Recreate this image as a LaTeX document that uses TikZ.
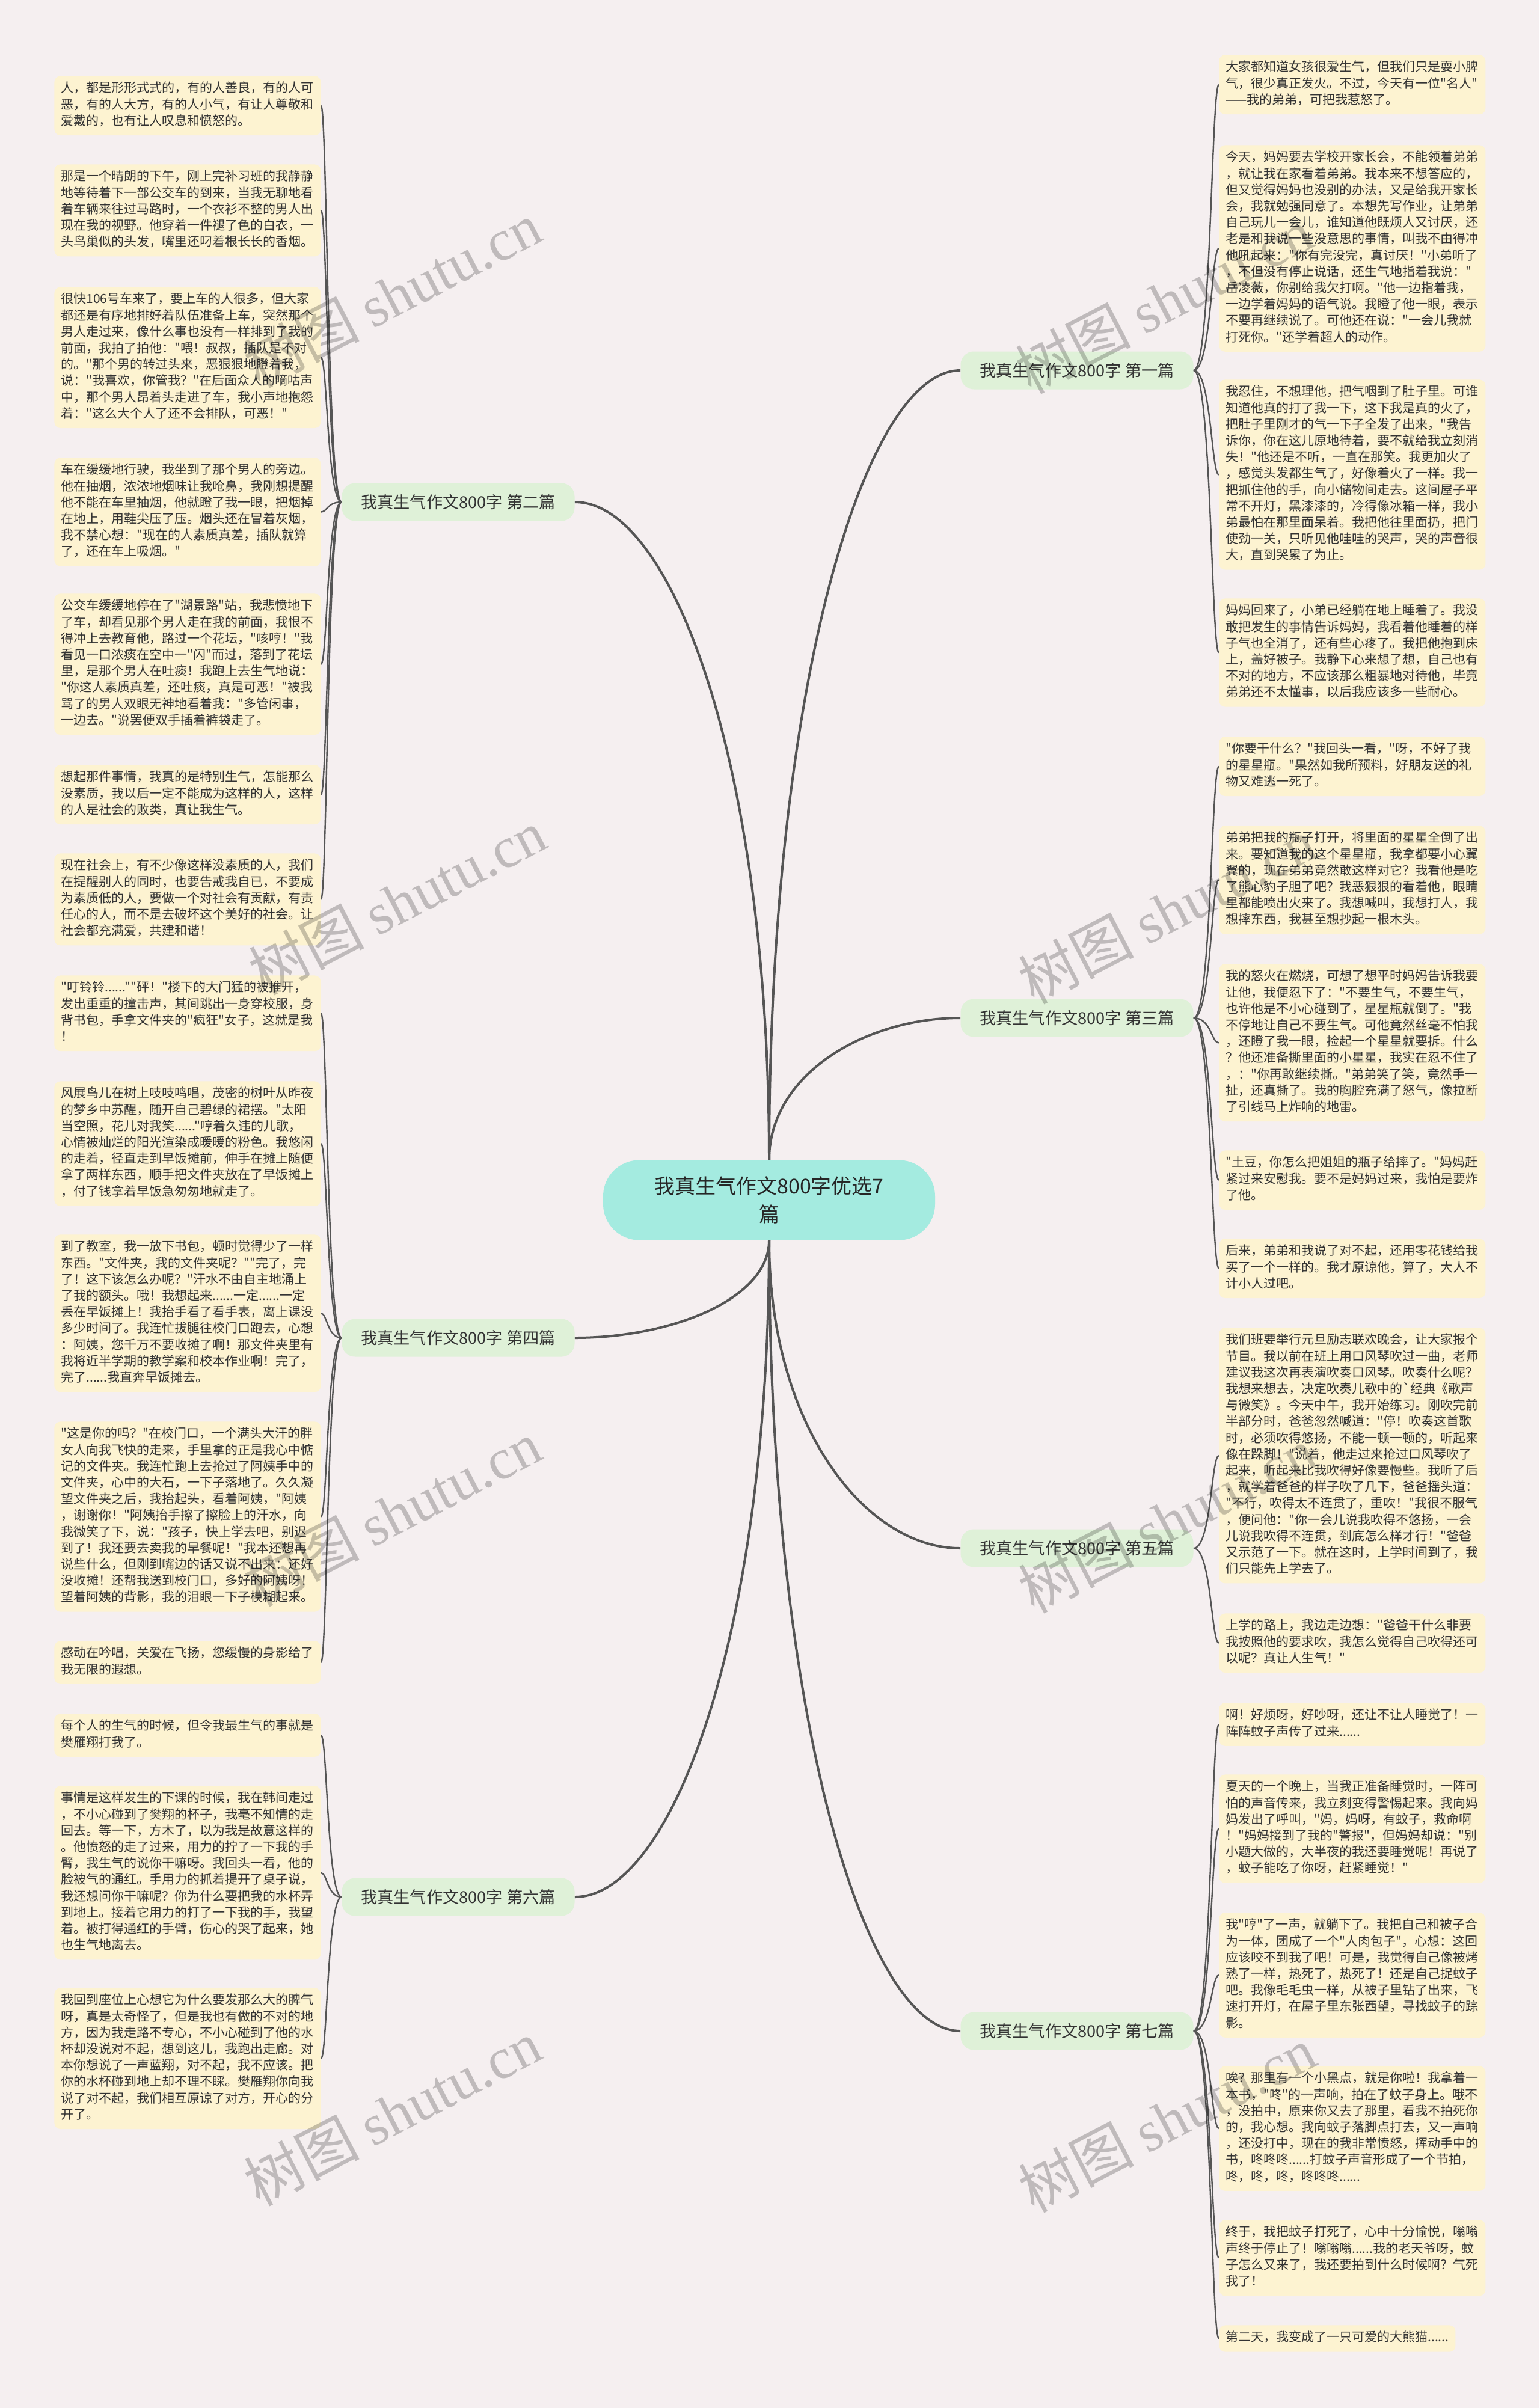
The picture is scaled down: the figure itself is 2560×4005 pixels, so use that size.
\documentclass[tikz,border=0pt]{standalone}
\usepackage{fontspec}
\setmainfont{Noto Sans CJK SC}[Ligatures=TeXOff]
\newfontfamily\wmserif{Liberation Serif}
\usetikzlibrary{calc}
\setlength\parindent{0pt}
\definecolor{bgc}{HTML}{F5EFF0}
\definecolor{boxc}{HTML}{FDF3D1}
\definecolor{brc}{HTML}{DFF1D8}
\definecolor{cenc}{HTML}{A4EBE0}
\definecolor{linec}{HTML}{555555}
\definecolor{txtc}{HTML}{333333}
\tikzset{
  leaf/.style={fill=boxc, rounded corners=5pt, anchor=north west, inner xsep=5.5pt, inner ysep=4.25pt,
    text width=210.5pt, align=left, text=txtc, font=\fontsize{10.5pt}{13.6pt}\selectfont,
    execute at begin node=\strut, execute at end node=\strut},
  leafn/.style={fill=boxc, rounded corners=5pt, anchor=north west, inner xsep=5.5pt, inner ysep=4.25pt,
    text=txtc, font=\fontsize{10.5pt}{13.6pt}\selectfont,
    execute at begin node=\strut, execute at end node=\strut},
  branch/.style={fill=brc, rounded corners=11pt, minimum width=193.5pt, minimum height=31.5pt,
    inner sep=0pt, text=txtc, font=\fontsize{13.6pt}{16pt}\selectfont},
  centre/.style={fill=cenc, rounded corners=30pt, minimum width=276pt, minimum height=66.5pt,
    align=center, text=black!85, font=\fontsize{17pt}{23.5pt}\selectfont},
  trunk/.style={draw=linec, line width=2pt},
  twig/.style={draw=linec, line width=1.2pt},
  wm/.style={rotate=27.5, text=black, text opacity=0.22, font=\fontsize{48pt}{48pt}\selectfont}
}
\newcommand\trunk[2]{\draw[trunk] let \p1=(#1), \p2=(#2) in (\p1) .. controls (\x1,{\y1+0.6*(\y2-\y1)}) and ({\x1+0.5*(\x2-\x1)},\y2) .. (\p2);}
\newcommand\twigR[2]{\draw[twig] let \p1=(#1.east), \p2=(#2.west) in (\p1) .. controls ({\x1+0.7*(\x2-\x1)},\y1) and ({\x1+0.7*(\x2-\x1)},\y2) .. (\p2);}
\newcommand\twigL[2]{\draw[twig] let \p1=(#1.west), \p2=(#2.east) in (\p1) .. controls ({\x1+0.7*(\x2-\x1)},\y1) and ({\x1+0.7*(\x2-\x1)},\y2) .. (\p2);}
\begin{document}
\begin{tikzpicture}[x=0.5pt,y=-0.5pt]
\useasboundingbox (0,0) rectangle (2560,4005);
\fill[bgc] (0,0) rectangle (2560,4005);

% centre and branches
\node[centre] (c) at (1279,1996) {我真生气作文800字优选7\\篇};
\node[branch] (b1) at (1791,616) {我真生气作文800字 第一篇};
\node[branch] (b2) at (762,835) {我真生气作文800字 第二篇};
\node[branch] (b3) at (1791,1693) {我真生气作文800字 第三篇};
\node[branch] (b4) at (762,2225) {我真生气作文800字 第四篇};
\node[branch] (b5) at (1791,2575) {我真生气作文800字 第五篇};
\node[branch] (b6) at (762,3155) {我真生气作文800字 第六篇};
\node[branch] (b7) at (1791,3378) {我真生气作文800字 第七篇};

% left leaves
\node[leaf] (l1) at (90,126) {人，都是形形式式的，有的人善良，有的人可\\恶，有的人大方，有的人小气，有让人尊敬和\\爱戴的，也有让人叹息和愤怒的。};
\node[leaf] (l2) at (90,273) {那是一个晴朗的下午，刚上完补习班的我静静\\地等待着下一部公交车的到来，当我无聊地看\\着车辆来往过马路时，一个衣衫不整的男人出\\现在我的视野。他穿着一件褪了色的白衣，一\\头鸟巢似的头发，嘴里还叼着根长长的香烟。};
\node[leaf] (l3) at (90,477) {很快106号车来了，要上车的人很多，但大家\\都还是有序地排好着队伍准备上车，突然那个\\男人走过来，像什么事也没有一样排到了我的\\前面，我拍了拍他："喂！叔叔，插队是不对\\的。"那个男的转过头来，恶狠狠地瞪着我，\\说："我喜欢，你管我？"在后面众人的嘀咕声\\中，那个男人昂着头走进了车，我小声地抱怨\\着："这么大个人了还不会排队，可恶！"};
\node[leaf] (l4) at (90,761) {车在缓缓地行驶，我坐到了那个男人的旁边。\\他在抽烟，浓浓地烟味让我呛鼻，我刚想提醒\\他不能在车里抽烟，他就瞪了我一眼，把烟掉\\在地上，用鞋尖压了压。烟头还在冒着灰烟，\\我不禁心想："现在的人素质真差，插队就算\\了，还在车上吸烟。"};
\node[leaf] (l5) at (90,987) {公交车缓缓地停在了"湖景路"站，我悲愤地下\\了车，却看见那个男人走在我的前面，我恨不\\得冲上去教育他，路过一个花坛，"咳哼！"我\\看见一口浓痰在空中一"闪"而过，落到了花坛\\里，是那个男人在吐痰！我跑上去生气地说：\\"你这人素质真差，还吐痰，真是可恶！"被我\\骂了的男人双眼无神地看着我："多管闲事，\\一边去。"说罢便双手插着裤袋走了。};
\node[leaf] (l6) at (90,1272) {想起那件事情，我真的是特别生气，怎能那么\\没素质，我以后一定不能成为这样的人，这样\\的人是社会的败类，真让我生气。};
\node[leaf] (l7) at (90,1419) {现在社会上，有不少像这样没素质的人，我们\\在提醒别人的同时，也要告戒我自已，不要成\\为素质低的人，要做一个对社会有贡献，有责\\任心的人，而不是去破坏这个美好的社会。让\\社会都充满爱，共建和谐！};
\node[leaf] (l8) at (90,1622) {"叮铃铃......""砰！"楼下的大门猛的被推开，\\发出重重的撞击声，其间跳出一身穿校服，身\\背书包，手拿文件夹的"疯狂"女子，这就是我\\！};
\node[leaf] (l9) at (90,1798) {风展鸟儿在树上吱吱鸣唱，茂密的树叶从昨夜\\的梦乡中苏醒，随开自己碧绿的裙摆。"太阳\\当空照，花儿对我笑......"哼着久违的儿歌，\\心情被灿烂的阳光渲染成暖暖的粉色。我悠闲\\的走着，径直走到早饭摊前，伸手在摊上随便\\拿了两样东西，顺手把文件夹放在了早饭摊上\\，付了钱拿着早饭急匆匆地就走了。};
\node[leaf] (l10) at (90,2053) {到了教室，我一放下书包，顿时觉得少了一样\\东西。"文件夹，我的文件夹呢？""完了，完\\了！这下该怎么办呢？"汗水不由自主地涌上\\了我的额头。哦！我想起来......一定......一定\\丢在早饭摊上！我抬手看了看手表，离上课没\\多少时间了。我连忙拔腿往校门口跑去，心想\\：阿姨，您千万不要收摊了啊！那文件夹里有\\我将近半学期的教学案和校本作业啊！完了，\\完了......我直奔早饭摊去。};
\node[leaf] (l11) at (90,2364) {"这是你的吗？"在校门口，一个满头大汗的胖\\女人向我飞快的走来，手里拿的正是我心中惦\\记的文件夹。我连忙跑上去抢过了阿姨手中的\\文件夹，心中的大石，一下子落地了。久久凝\\望文件夹之后，我抬起头，看着阿姨，"阿姨\\，谢谢你！"阿姨抬手擦了擦脸上的汗水，向\\我微笑了下，说："孩子，快上学去吧，别迟\\到了！我还要去卖我的早餐呢！"我本还想再\\说些什么，但刚到嘴边的话又说不出来：还好\\没收摊！还帮我送到校门口，多好的阿姨呀！\\望着阿姨的背影，我的泪眼一下子模糊起来。};
\node[leaf] (l12) at (90,2729) {感动在吟唱，关爱在飞扬，您缓慢的身影给了\\我无限的遐想。};
\node[leaf] (l13) at (90,2850) {每个人的生气的时候，但令我最生气的事就是\\樊雁翔打我了。};
\node[leaf] (l14) at (90,2970) {事情是这样发生的下课的时候，我在韩间走过\\，不小心碰到了樊翔的杯子，我毫不知情的走\\回去。等一下，方木了，以为我是故意这样的\\。他愤怒的走了过来，用力的拧了一下我的手\\臂，我生气的说你干嘛呀。我回头一看，他的\\脸被气的通红。手用力的抓着提开了桌子说，\\我还想问你干嘛呢？你为什么要把我的水杯弄\\到地上。接着它用力的打了一下我的手，我望\\着。被打得通红的手臂，伤心的哭了起来，她\\也生气地离去。};
\node[leaf] (l15) at (90,3306) {我回到座位上心想它为什么要发那么大的脾气\\呀，真是太奇怪了，但是我也有做的不对的地\\方，因为我走路不专心，不小心碰到了他的水\\杯却没说对不起，想到这儿，我跑出走廊。对\\本你想说了一声蓝翔，对不起，我不应该。把\\你的水杯碰到地上却不理不睬。樊雁翔你向我\\说了对不起，我们相互原谅了对方，开心的分\\开了。};

% right leaves
\node[leaf] (r1) at (2027,91) {大家都知道女孩很爱生气，但我们只是耍小脾\\气，很少真正发火。不过，今天有一位"名人"\\——我的弟弟，可把我惹怒了。};
\node[leaf] (r2) at (2027,241) {今天，妈妈要去学校开家长会，不能领着弟弟\\，就让我在家看着弟弟。我本来不想答应的，\\但又觉得妈妈也没别的办法，又是给我开家长\\会，我就勉强同意了。本想先写作业，让弟弟\\自己玩儿一会儿，谁知道他既烦人又讨厌，还\\老是和我说一些没意思的事情，叫我不由得冲\\他吼起来："你有完没完，真讨厌！"小弟听了\\，不但没有停止说话，还生气地指着我说："\\岳凌薇，你别给我欠打啊。"他一边指着我，\\一边学着妈妈的语气说。我瞪了他一眼，表示\\不要再继续说了。可他还在说："一会儿我就\\打死你。"还学着超人的动作。};
\node[leaf] (r3) at (2027,631) {我忍住，不想理他，把气咽到了肚子里。可谁\\知道他真的打了我一下，这下我是真的火了，\\把肚子里刚才的气一下子全发了出来，"我告\\诉你，你在这儿原地待着，要不就给我立刻消\\失！"他还是不听，一直在那笑。我更加火了\\，感觉头发都生气了，好像着火了一样。我一\\把抓住他的手，向小储物间走去。这间屋子平\\常不开灯，黑漆漆的，冷得像冰箱一样，我小\\弟最怕在那里面呆着。我把他往里面扔，把门\\使劲一关，只听见他哇哇的哭声，哭的声音很\\大，直到哭累了为止。};
\node[leaf] (r4) at (2027,995) {妈妈回来了，小弟已经躺在地上睡着了。我没\\敢把发生的事情告诉妈妈，我看着他睡着的样\\子气也全消了，还有些心疼了。我把他抱到床\\上，盖好被子。我静下心来想了想，自己也有\\不对的地方，不应该那么粗暴地对待他，毕竟\\弟弟还不太懂事，以后我应该多一些耐心。};
\node[leaf] (r5) at (2027,1225) {"你要干什么？"我回头一看，"呀，不好了我\\的星星瓶。"果然如我所预料，好朋友送的礼\\物又难逃一死了。};
\node[leaf] (r6) at (2027,1373) {弟弟把我的瓶子打开，将里面的星星全倒了出\\来。要知道我的这个星星瓶，我拿都要小心翼\\翼的，现在弟弟竟然敢这样对它？我看他是吃\\了熊心豹子胆了吧？我恶狠狠的看着他，眼睛\\里都能喷出火来了。我想喊叫，我想打人，我\\想摔东西，我甚至想抄起一根木头。};
\node[leaf] (r7) at (2027,1603) {我的怒火在燃烧，可想了想平时妈妈告诉我要\\让他，我便忍下了："不要生气，不要生气，\\也许他是不小心碰到了，星星瓶就倒了。"我\\不停地让自己不要生气。可他竟然丝毫不怕我\\，还瞪了我一眼，捡起一个星星就要拆。什么\\？他还准备撕里面的小星星，我实在忍不住了\\，："你再敢继续撕。"弟弟笑了笑，竟然手一\\扯，还真撕了。我的胸腔充满了怒气，像拉断\\了引线马上炸响的地雷。};
\node[leaf] (r8) at (2027,1913) {"土豆，你怎么把姐姐的瓶子给摔了。"妈妈赶\\紧过来安慰我。要不是妈妈过来，我怕是要炸\\了他。};
\node[leaf] (r9) at (2027,2060) {后来，弟弟和我说了对不起，还用零花钱给我\\买了一个一样的。我才原谅他，算了，大人不\\计小人过吧。};
\node[leaf] (r10) at (2027,2208) {我们班要举行元旦励志联欢晚会，让大家报个\\节目。我以前在班上用口风琴吹过一曲，老师\\建议我这次再表演吹奏口风琴。吹奏什么呢？\\我想来想去，决定吹奏儿歌中的`经典《歌声\\与微笑》。今天中午，我开始练习。刚吹完前\\半部分时，爸爸忽然喊道："停！吹奏这首歌\\时，必须吹得悠扬，不能一顿一顿的，听起来\\像在跺脚！"说着，他走过来抢过口风琴吹了\\起来，听起来比我吹得好像要慢些。我听了后\\，就学着爸爸的样子吹了几下，爸爸摇头道：\\"不行，吹得太不连贯了，重吹！"我很不服气\\，便问他："你一会儿说我吹得不悠扬，一会\\儿说我吹得不连贯，到底怎么样才行！"爸爸\\又示范了一下。就在这时，上学时间到了，我\\们只能先上学去了。};
\node[leaf] (r11) at (2027,2683) {上学的路上，我边走边想："爸爸干什么非要\\我按照他的要求吹，我怎么觉得自己吹得还可\\以呢？真让人生气！"};
\node[leaf] (r12) at (2027,2832) {啊！好烦呀，好吵呀，还让不让人睡觉了！一\\阵阵蚊子声传了过来......};
\node[leaf] (r13) at (2027,2951) {夏天的一个晚上，当我正准备睡觉时，一阵可\\怕的声音传来，我立刻变得警惕起来。我向妈\\妈发出了呼叫，"妈，妈呀，有蚊子，救命啊\\！"妈妈接到了我的"警报"，但妈妈却说："别\\小题大做的，大半夜的我还要睡觉呢！再说了\\，蚊子能吃了你呀，赶紧睡觉！"};
\node[leaf] (r14) at (2027,3181) {我"哼"了一声，就躺下了。我把自己和被子合\\为一体，团成了一个"人肉包子"，心想：这回\\应该咬不到我了吧！可是，我觉得自己像被烤\\熟了一样，热死了，热死了！还是自己捉蚊子\\吧。我像毛毛虫一样，从被子里钻了出来，飞\\速打开灯，在屋子里东张西望，寻找蚊子的踪\\影。};
\node[leaf] (r15) at (2027,3436) {唉？那里有一个小黑点，就是你啦！我拿着一\\本书，"咚"的一声响，拍在了蚊子身上。哦不\\，没拍中，原来你又去了那里，看我不拍死你\\的，我心想。我向蚊子落脚点打去，又一声响\\，还没打中，现在的我非常愤怒，挥动手中的\\书，咚咚咚......打蚊子声音形成了一个节拍，\\咚，咚，咚，咚咚咚......};
\node[leaf] (r16) at (2027,3692) {终于，我把蚊子打死了，心中十分愉悦，嗡嗡\\声终于停止了！嗡嗡嗡......我的老天爷呀，蚊\\子怎么又来了，我还要拍到什么时候啊？气死\\我了！};
\node[leafn] (r17) at (2027,3867) {第二天，我变成了一只可爱的大熊猫......};

% connectors centre -> branches
\trunk{c.north}{b1.west}
\trunk{c.north}{b2.east}
\trunk{c.north}{b3.west}
\trunk{c.south}{b4.east}
\trunk{c.south}{b5.west}
\trunk{c.south}{b6.east}
\trunk{c.south}{b7.west}

% connectors branches -> leaves
\foreach \k in {1,2,3,4} {\twigR{b1}{r\k}}
\foreach \k in {5,6,7,8,9} {\twigR{b3}{r\k}}
\foreach \k in {10,11} {\twigR{b5}{r\k}}
\foreach \k in {12,13,14,15,16,17} {\twigR{b7}{r\k}}
\foreach \k in {1,2,3,4,5,6,7} {\twigL{b2}{l\k}}
\foreach \k in {8,9,10,11,12} {\twigL{b4}{l\k}}
\foreach \k in {13,14,15} {\twigL{b6}{l\k}}

% watermarks
\node[wm] (w1) at (652,490) {树图 {\wmserif shutu.cn}};
\node[wm] (w2) at (1935,500) {树图 {\wmserif shutu.cn}};
\node[wm] (w3) at (660,1500) {树图 {\wmserif shutu.cn}};
\node[wm] (w4) at (1940,1515) {树图 {\wmserif shutu.cn}};
\node[wm] (w5) at (652,2517) {树图 {\wmserif shutu.cn}};
\node[wm] (w6) at (1940,2528) {树图 {\wmserif shutu.cn}};
\node[wm] (w7) at (652,3514) {树图 {\wmserif shutu.cn}};
\node[wm] (w8) at (1940,3525) {树图 {\wmserif shutu.cn}};
\end{tikzpicture}
\end{document}
